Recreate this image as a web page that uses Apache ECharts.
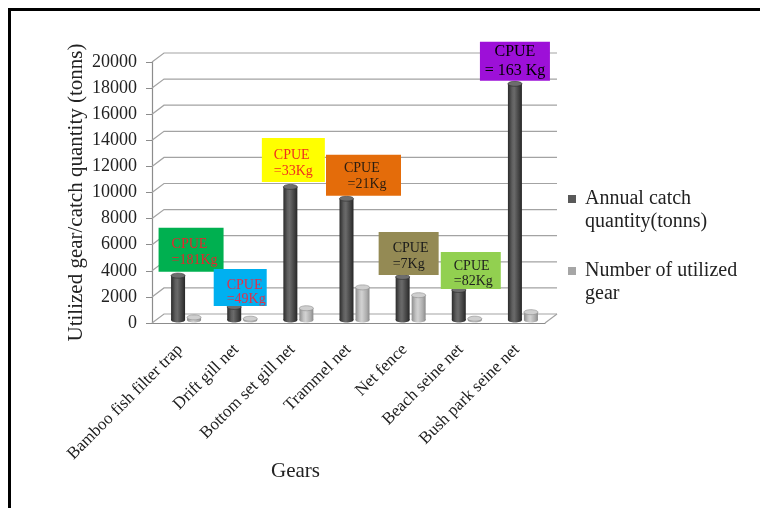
<!DOCTYPE html>
<html>
<head>
<meta charset="utf-8">
<title>Gears: catch quantity and utilized gear</title>
<script src="https://cdn.jsdelivr.net/npm/echarts@6/dist/echarts.min.js"></script>
<style>
  html, body { margin: 0; padding: 0; background: #fff; }
  #frame { position: absolute; left: 8px; top: 8px; width: 760px; height: 508px;
           border-left: 3px solid #000; border-top: 3px solid #000; box-sizing: border-box; }
  #chart { position: absolute; left: 0; top: 0; width: 760px; height: 508px; }
</style>
</head>
<body>
<div id="frame"></div>
<div id="chart"></div>
<script>
// ---- data ----
const gears = [
  'Bamboo fish filter trap', 'Drift gill net', 'Bottom set gill net',
  'Trammel net', 'Net fence', 'Beach seine net', 'Bush park seine net'
];
const catchTonnes = [3400, 1000, 10200, 9300, 3300, 2300, 18100];
const gearCount = [200, 100, 900, 2500, 1900, 100, 600];
const cpueLabels = [
  'CPUE\n=181Kg', 'CPUE\n=49Kg', 'CPUE\n=33Kg', 'CPUE\n =21Kg',
  'CPUE\n=7Kg', 'CPUE\n=82Kg', 'CPUE\n= 163 Kg'
];
const yTicks = [0, 2000, 4000, 6000, 8000, 10000, 12000, 14000, 16000, 18000, 20000];
const seriesNames = ['Annual catch quantity(tonns)', 'Number of utilized gear'];
const legendLines = {
  'Annual catch quantity(tonns)': 'Annual catch\nquantity(tonns)',
  'Number of utilized gear': 'Number of utilized\ngear'
};

// ---- styling ----
const SERIF = '"Liberation Serif", "Times New Roman", serif';
const WALL_DX = 12, WALL_DY = -9;   // back wall offset of the pseudo-3D box
const BAR_DY = -3;                   // bars stand midway between front and back
const BAR_RX = 7;

const palettes = [
  { offset: -2, top: '#6d6d6d', edge: '#2a2a2a',
    stops: ['#2b2b2b', '#5f5f5f', '#6a6a6a', '#404040', '#262626'] },
  { offset: 14, top: '#cfcfcf', edge: '#8a8a8a',
    stops: ['#8e8e8e', '#c4c4c4', '#d2d2d2', '#acacac', '#8a8a8a'] }
];

// annotation boxes above the catch bars
const boxStyles = [
  { bg: '#00b050', fg: '#e8242c', w: 65, h: 44, dx: 13, gap: 4, padL: 13, padT: 9, size: 14, lh: 16, align: 'left' },
  { bg: '#00b0f0', fg: '#e0304a', w: 53, h: 37, dx: 6,  gap: 1, padL: 13, padT: 9, size: 14, lh: 14, align: 'left' },
  { bg: '#ffff00', fg: '#f0301c', w: 63, h: 44, dx: 3,  gap: 5, padL: 12, padT: 9, size: 14, lh: 16, align: 'left' },
  { bg: '#e46c0a', fg: '#2b1d10', w: 75, h: 41, dx: 17, gap: 3, padL: 18, padT: 6, size: 14, lh: 16, align: 'left' },
  { bg: '#948a54', fg: '#1a1a1a', w: 60, h: 43, dx: 6,  gap: 2, padL: 14, padT: 8, size: 14, lh: 16, align: 'left' },
  { bg: '#92d050', fg: '#1f1f1f', w: 60, h: 37, dx: 12, gap: 1, padL: 13, padT: 7, size: 14, lh: 15, align: 'left' },
  { bg: '#9d10d8', fg: '#000000', w: 70, h: 39, dx: 0,  gap: 3, padL: 35, padT: 1, size: 16, lh: 19, align: 'center' }
];

function cylinderRenderer(pal) {
  return function (params, api) {
    const i = api.value(0), v = api.value(1);
    const topPt = api.coord([i, v]);
    const basePt = api.coord([i, 0]);
    const cx = topPt[0] + pal.offset;
    const yTop = topPt[1] + BAR_DY;
    const yBase = basePt[1] + BAR_DY;
    const grad = () => new echarts.graphic.LinearGradient(0, 0, 1, 0, [
      { offset: 0, color: pal.stops[0] },
      { offset: 0.3, color: pal.stops[1] },
      { offset: 0.45, color: pal.stops[2] },
      { offset: 0.8, color: pal.stops[3] },
      { offset: 1, color: pal.stops[4] }
    ]);
    const ry = 2.5;
    return {
      type: 'group',
      children: [
        { type: 'ellipse', shape: { cx: cx, cy: yBase, rx: BAR_RX, ry: ry }, style: { fill: grad() } },
        { type: 'rect', shape: { x: cx - BAR_RX, y: yTop, width: BAR_RX * 2, height: Math.max(0, yBase - yTop) },
          style: { fill: grad() } },
        { type: 'ellipse', shape: { cx: cx, cy: yTop, rx: BAR_RX, ry: ry },
          style: { fill: pal.top, stroke: pal.edge, lineWidth: 0.6 } }
      ]
    };
  };
}

function wallRenderer(params, api) {
  const cs = params.coordSys;
  const y = api.coord([0, api.value(1)])[1];
  const x0 = cs.x, x1 = cs.x + cs.width;
  const line = { stroke: '#a3a3a3', lineWidth: 1.2, fill: null };
  const children = [
    { type: 'polyline', shape: { points: [[x0, y], [x0 + WALL_DX, y + WALL_DY], [x1 + WALL_DX, y + WALL_DY]] },
      style: line }
  ];
  if (api.value(1) === 0) {
    children.push({ type: 'line', shape: { x1: x1, y1: y, x2: x1 + WALL_DX, y2: y + WALL_DY }, style: line });
  }
  return { type: 'group', children: children };
}

function boxRenderer(params, api) {
  const s = boxStyles[params.dataIndex];
  const i = api.value(0), v = api.value(1);
  const topPt = api.coord([i, v]);
  const cx = topPt[0] + palettes[0].offset + s.dx;
  const bottom = topPt[1] + BAR_DY - s.gap;
  const x = cx - s.w / 2, y = bottom - s.h;
  return {
    type: 'group',
    children: [
      { type: 'rect', shape: { x: x, y: y, width: s.w, height: s.h }, style: { fill: s.bg } },
      { type: 'text', x: x + s.padL, y: y + s.padT,
        style: { text: cpueLabels[params.dataIndex], fill: s.fg, fontFamily: SERIF, fontSize: s.size,
                 lineHeight: s.lh, align: s.align, verticalAlign: 'top' } }
    ]
  };
}

const legendIcon = 'path://M0,0h0.01v0.01h-0.01zM0,8h8v8h-8zM12,46h0.01v0.01h-0.01z';

const chart = echarts.init(document.getElementById('chart'), null, { renderer: 'canvas' });
chart.setOption({
  animation: false,
  backgroundColor: 'transparent',
  grid: { left: 152, top: 62, width: 393, height: 261 },
  legend: {
    orient: 'vertical', left: 563, top: 182, itemGap: 26, itemWidth: 12, itemHeight: 46,
    selectedMode: false,
    textStyle: { fontFamily: SERIF, fontSize: 20, lineHeight: 23, color: '#222' },
    formatter: name => legendLines[name] || name,
    data: [
      { name: seriesNames[0], icon: legendIcon, itemStyle: { color: '#595959' } },
      { name: seriesNames[1], icon: legendIcon, itemStyle: { color: '#a6a6a6' } }
    ]
  },
  xAxis: {
    type: 'category', data: gears, boundaryGap: true,
    axisLine: { lineStyle: { color: '#8c8c8c', width: 1.2 } },
    axisTick: { length: 5, lineStyle: { color: '#8c8c8c' } },
    axisLabel: { rotate: 45, interval: 0, margin: 24, fontFamily: SERIF, fontSize: 17, color: '#222' },
    name: 'Gears', nameLocation: 'middle', nameGap: 138, nameMoveOverlap: false,
    nameTextStyle: { fontFamily: SERIF, fontSize: 21, color: '#222', padding: [0, 106, 0, 0] }
  },
  yAxis: {
    type: 'value', min: 0, max: 20000, interval: 2000,
    splitLine: { show: false },
    axisLine: { show: true, lineStyle: { color: '#8c8c8c', width: 1.2 } },
    axisTick: { show: true, length: 6, lineStyle: { color: '#8c8c8c' } },
    axisLabel: { margin: 15, fontFamily: SERIF, fontSize: 18, color: '#222', formatter: v => String(v) },
    name: 'Utilized gear/catch quantity (tonns)', nameLocation: 'middle', nameGap: 65, nameMoveOverlap: false,
    nameTextStyle: { fontFamily: SERIF, fontSize: 21, color: '#222' }
  },
  series: [
    { type: 'custom', name: 'wall', silent: true, z: 1, clip: false,
      data: yTicks.map(t => [0, t]), encode: { x: 0, y: 1 }, renderItem: wallRenderer },
    { type: 'custom', name: seriesNames[0], z: 3, clip: false,
      itemStyle: { color: '#595959' },
      data: catchTonnes.map((v, i) => [i, v]), encode: { x: 0, y: 1 }, renderItem: cylinderRenderer(palettes[0]) },
    { type: 'custom', name: seriesNames[1], z: 3, clip: false,
      itemStyle: { color: '#a6a6a6' },
      data: gearCount.map((v, i) => [i, v]), encode: { x: 0, y: 1 }, renderItem: cylinderRenderer(palettes[1]) },
    { type: 'custom', name: 'cpue', silent: true, z: 5, clip: false,
      data: catchTonnes.map((v, i) => [i, v]), encode: { x: 0, y: 1 }, renderItem: boxRenderer }
  ]
});
</script>
</body>
</html>
